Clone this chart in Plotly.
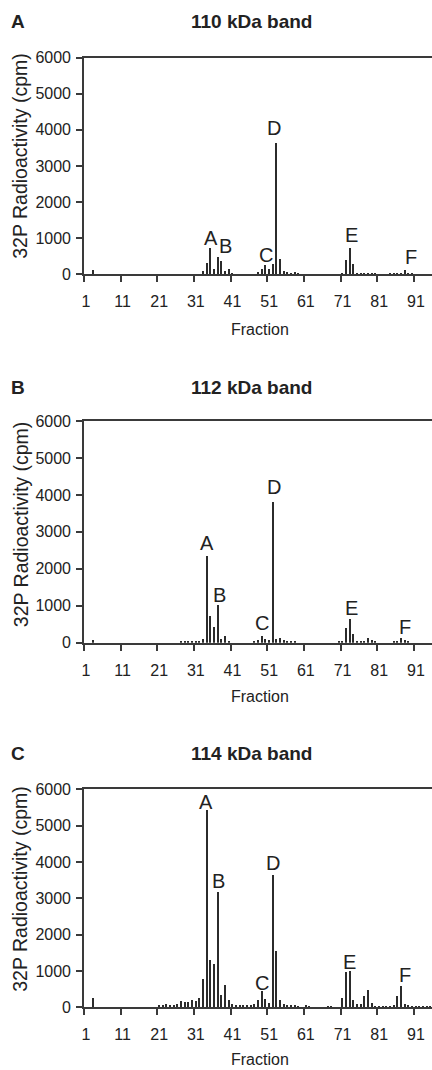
import plotly.graph_objects as go

W, H = 432, 1070

# ---------------- data ----------------
frac_110 = [3, 30, 33, 34, 35, 36, 37, 38, 39, 40, 41, 48, 49, 50, 51, 52, 53, 54, 55, 56, 57, 58, 59,
            71, 72, 73, 74, 75, 76, 77, 78, 79, 80, 84, 85, 86, 87, 88, 89, 90]
cpm_110 = [130, 20, 110, 340, 730, 150, 490, 370, 100, 150, 25, 75, 150, 260, 160, 305, 3650, 450, 115, 85, 55, 65, 35,
           40, 420, 740, 305, 30, 30, 30, 30, 30, 30, 30, 30, 30, 60, 145, 45, 25]

frac_112 = [3, 27, 28, 29, 30, 31, 32, 33, 34, 35, 36, 37, 38, 39, 40, 47, 48, 49, 50, 51, 52, 53, 54, 55, 56, 57, 58,
            70, 71, 72, 73, 74, 75, 76, 77, 78, 79, 80, 85, 86, 87, 88, 89]
cpm_112 = [85, 25, 25, 25, 25, 25, 30, 95, 2360, 715, 428, 1025, 108, 190, 30, 25, 68, 170, 108, 68, 3800, 100, 135, 65, 30, 30, 30,
           28, 25, 390, 635, 248, 35, 30, 30, 140, 85, 25, 28, 55, 140, 70, 35]

frac_114 = [3, 21, 22, 23, 24, 25, 26, 27, 28, 29, 30, 31, 32, 33, 34, 35, 36, 37, 38, 39, 40, 41, 42, 43, 44, 45, 46, 47,
            48, 49, 50, 51, 52, 53, 54, 55, 56, 57, 58, 59, 61, 62, 67, 68, 71, 72, 73, 74, 75, 76, 77, 78, 79, 80, 81,
            82, 83, 84, 85, 86, 87, 88, 89, 90, 91, 92, 93, 94, 95]
cpm_114 = [252, 37, 40, 78, 40, 52, 80, 160, 125, 150, 188, 160, 257, 780, 5420, 1300, 1190, 3170, 330, 596, 190, 82, 42, 55, 40, 30, 45, 80,
           188, 450, 225, 120, 3620, 1555, 205, 70, 45, 65, 65, 20, 30, 25, 25, 25, 257, 960, 1000, 188, 70, 70, 290, 477, 100, 25, 25,
           25, 25, 25, 40, 297, 590, 92, 55, 25, 25, 25, 25, 25, 25]

peak_letters = ["A", "B", "C", "D", "E", "F"]
peak_x_110 = [35, 39, 50.1, 52.3, 73.5, 89.6]
peak_y_110 = [1000, 770, 540, 4050, 1090, 490]
peak_x_112 = [34, 37.4, 49.1, 52.3, 73.5, 87.9]
peak_y_112 = [2700, 1290, 525, 4220, 930, 430]
peak_x_114 = [33.8, 37.1, 49, 52.1, 72.8, 87.9]
peak_y_114 = [5660, 3475, 680, 3960, 1255, 890]

panel_letters = ["A", "B", "C"]
panel_titles = ["110 kDa band", "112 kDa band", "114 kDa band"]
x_tick_vals = [1, 11, 21, 31, 41, 51, 61, 71, 81, 91]
x_tick_text = ["1", "11", "21", "31", "41", "51", "61", "71", "81", "91"]
x_boundary_ticks = [0.5, 10.5, 20.5, 30.5, 40.5, 50.5, 60.5, 70.5, 80.5, 90.5]
y_tick_vals = [0, 1000, 2000, 3000, 4000, 5000, 6000]

# ---------------- layout geometry (pixels) ----------------
FONT = "Liberation Sans, Arial, Helvetica, sans-serif"
AX = "#3a3a3a"
TXT = "#222222"
BAR = "#2b2b2b"

plot_left = 84
plot_tops = [57.5, 421, 789.3]
plot_bottoms = [274.3, 642.7, 1007.3]
title_ys = [21.7, 387, 753.3]
frac_title_ys = [329, 696.7, 1059.5]

def py(p):
    return 1 - p / H

fig = go.Figure()
series = [(frac_110, cpm_110, peak_x_110, peak_y_110),
          (frac_112, cpm_112, peak_x_112, peak_y_112),
          (frac_114, cpm_114, peak_x_114, peak_y_114)]

annotations = []
for i, (fx, fy, lx, ly) in enumerate(series):
    n = "" if i == 0 else str(i + 1)
    xa, ya = "x" + n, "y" + n
    fig.add_trace(go.Bar(x=fx, y=fy, width=0.36, marker=dict(color=BAR, line=dict(width=0)),
                         xaxis=xa, yaxis=ya, showlegend=False, hoverinfo="x+y"))
    fig.layout["xaxis" + n] = dict(
        domain=[plot_left / W, 1], range=[0.5, 95.4], anchor=ya,
        showline=True, linecolor=AX, linewidth=1.6, mirror=True,
        showgrid=False, zeroline=False,
        tickmode="array", tickvals=x_tick_vals, ticktext=x_tick_text,
        ticks="outside", ticklen=12, tickcolor="rgba(0,0,0,0)",
        minor=dict(tickmode="array", tickvals=x_boundary_ticks, ticks="outside",
                   ticklen=6, tickwidth=1.6, tickcolor=AX, showgrid=False),
        tickfont=dict(family=FONT, size=16, color=TXT), automargin=False, fixedrange=True)
    fig.layout["yaxis" + n] = dict(
        domain=[py(plot_bottoms[i]), py(plot_tops[i])], range=[0, 6000], anchor=xa,
        showline=True, linecolor=AX, linewidth=1.6,
        showgrid=False, zeroline=False,
        tickmode="array", tickvals=y_tick_vals,
        ticks="outside", ticklen=6, tickwidth=1.6, tickcolor=AX, ticklabelstandoff=2,
        tickfont=dict(family=FONT, size=16, color=TXT), automargin=False, fixedrange=True)

    for L, x0, y0 in zip(peak_letters, lx, ly):
        annotations.append(dict(x=x0, y=y0, xref=xa, yref=ya, text=L, showarrow=False,
                                font=dict(family=FONT, size=20, color=TXT),
                                xanchor="center", yanchor="middle"))
    annotations.append(dict(x=18 / W, y=py(title_ys[i]), xref="paper", yref="paper",
                            text="<b>%s</b>" % panel_letters[i], showarrow=False,
                            font=dict(family=FONT, size=19, color=TXT),
                            xanchor="center", yanchor="middle"))
    annotations.append(dict(x=251.7 / W, y=py(title_ys[i]), xref="paper", yref="paper",
                            text="<b>%s</b>" % panel_titles[i], showarrow=False,
                            font=dict(family=FONT, size=19, color=TXT),
                            xanchor="center", yanchor="middle"))
    annotations.append(dict(x=260 / W, y=py(frac_title_ys[i]), xref="paper", yref="paper",
                            text="Fraction", showarrow=False,
                            font=dict(family=FONT, size=16, color=TXT),
                            xanchor="center", yanchor="middle"))
    annotations.append(dict(x=20.5 / W, y=py(plot_bottoms[i] - 118), xref="paper", yref="paper",
                            text="32P Radioactivity (cpm)", showarrow=False, textangle=-90,
                            font=dict(family=FONT, size=19.5, color=TXT),
                            xanchor="center", yanchor="middle"))

fig.update_layout(width=W, height=H, margin=dict(l=0, r=0, t=0, b=0),
                  paper_bgcolor="white", plot_bgcolor="white",
                  annotations=annotations, bargap=0)
fig.write_html("out.html", include_plotlyjs=True, config={"displayModeBar": False},
               post_script="document.body.style.margin='0';document.body.style.padding='0';")
